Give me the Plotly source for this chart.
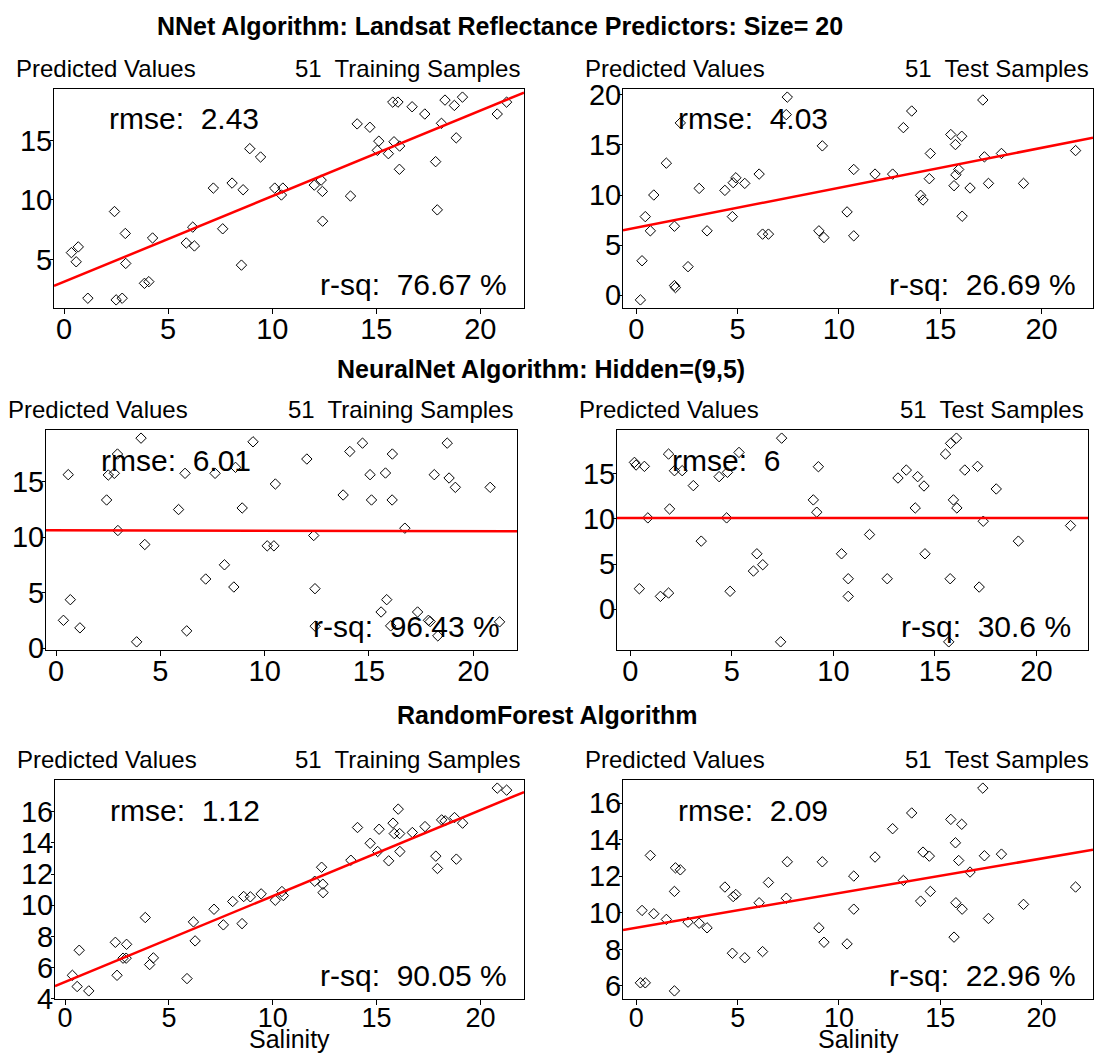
import plotly.graph_objects as go

# ---------------- data ----------------
train_x = [0.35, 0.58, 0.68, 1.14, 2.42, 2.50, 2.79, 2.94, 2.96, 3.86,
           4.07, 4.25, 5.87, 6.18, 6.26, 7.17, 7.62, 8.07, 8.52, 8.60,
           8.92, 9.44, 10.12, 10.44, 10.51, 12.02, 12.35, 12.41, 12.42, 13.76,
           14.08, 14.69, 15.05, 15.12, 15.58, 15.79, 15.85, 16.04, 16.11, 16.12,
           16.72, 17.33, 17.85, 17.93, 18.13, 18.30, 18.75, 18.84, 19.14, 20.81,
           21.26]

test_x = [0.20, 0.28, 0.44, 0.69, 0.86, 1.48, 1.88, 1.88, 1.93, 2.17,
          2.55, 3.10, 3.49, 4.37, 4.74, 4.78, 4.91, 5.35, 6.06, 6.23,
          6.52, 7.40, 7.45, 9.01, 9.18, 9.26, 10.40, 10.73, 10.73, 11.78,
          12.65, 13.18, 13.59, 14.03, 14.15, 14.46, 14.51, 15.52, 15.68, 15.75,
          15.77, 15.91, 16.06, 16.08, 16.47, 17.10, 17.18, 17.38, 18.02, 19.11,
          21.68]

nnet_train_pred = [5.58, 4.81, 6.06, 1.75, 9.03, 1.61, 1.75, 7.19, 4.67, 3.00,
                   3.14, 6.81, 6.39, 7.72, 6.14, 11.00, 7.58, 11.42, 4.53, 10.86,
                   14.31, 13.61, 11.00, 10.42, 11.00, 11.25, 11.67, 10.72, 8.22, 10.33,
                   16.39, 16.11, 14.17, 14.94, 13.89, 18.22, 14.89, 18.22, 12.58, 14.53,
                   17.83, 17.22, 13.22, 9.17, 16.44, 18.39, 17.94, 15.22, 18.64, 17.22,
                   18.22]

nnet_test_pred = [-0.48, 3.43, 7.84, 6.42, 10.00, 13.18, 6.88, 0.95, 0.75, 17.20,
                  2.84, 10.66, 6.42, 10.46, 7.84, 11.23, 11.72, 11.16, 12.09, 6.09,
                  6.09, 18.03, 19.78, 6.42, 14.91, 5.75, 8.31, 12.55, 5.92, 12.09,
                  12.09, 16.73, 18.39, 9.97, 9.50, 11.63, 14.15, 16.04, 10.93, 15.04,
                  12.02, 12.55, 15.87, 7.88, 10.70, 19.49, 13.81, 11.16, 14.15, 11.16,
                  14.44]

neural_train_pred = [2.51, 15.63, 4.37, 1.83, 13.35, 15.60, 15.75, 17.49, 10.60, 0.57,
                     18.92, 9.34, 12.49, 15.75, 1.56, 6.23, 15.75, 7.51, 5.51, 16.29,
                     12.63, 18.59, 9.22, 9.22, 14.79, 17.04, 10.15, 5.36, 1.98, 13.80,
                     17.72, 18.47, 15.63, 13.35, 3.26, 15.78, 4.37, 2.01, 13.35, 17.49,
                     10.81, 3.26, 2.51, 2.40, 15.63, 1.11, 18.47, 15.33, 14.49, 14.49,
                     2.37]

neural_test_pred = [16.25, 15.96, 2.28, 15.81, 10.11, 1.43, 1.80, 17.17, 11.10, 15.33,
                    15.33, 13.68, 7.54, 14.67, 10.11, 15.15, 1.99, 17.35, 4.23, 6.14,
                    4.93, -3.60, 18.93, 12.10, 10.74, 15.77, 6.14, 3.38, 1.43, 8.27,
                    3.38, 14.52, 15.40, 11.21, 14.67, 13.64, 6.14, 17.17, -3.60, 3.38,
                    18.35, 12.10, 18.93, 11.21, 15.40, 15.81, 2.46, 9.74, 13.31, 7.54,
                    9.26]

rf_train_pred = [5.50, 4.78, 7.11, 4.50, 7.62, 5.50, 6.60, 6.60, 7.49, 9.21,
                 6.19, 6.62, 5.29, 8.93, 7.71, 9.74, 8.74, 10.24, 8.82, 10.56,
                 10.54, 10.73, 10.32, 10.88, 10.62, 11.54, 12.44, 11.35, 10.81, 12.89,
                 14.99, 13.98, 13.45, 14.88, 12.85, 15.27, 14.60, 16.17, 14.60, 13.45,
                 14.67, 15.05, 13.15, 12.36, 15.48, 15.42, 15.63, 12.96, 15.27, 17.52,
                 17.39]

rf_test_pred = [6.17, 10.13, 6.17, 13.14, 9.95, 9.64, 11.17, 5.73, 12.46, 12.35,
                9.49, 9.43, 9.18, 11.41, 7.79, 10.89, 11.00, 7.54, 10.55, 7.88,
                11.66, 10.80, 12.79, 9.18, 12.79, 8.39, 8.30, 12.01, 10.20, 13.05,
                14.60, 11.77, 15.46, 10.64, 13.32, 13.10, 11.17, 15.11, 8.67, 13.83,
                10.55, 12.86, 14.84, 10.20, 12.23, 16.82, 13.12, 9.69, 13.21, 10.46,
                11.41]

# fitted-line parameters (intercept, slope), per panel
fit_intercept = [3.13, 6.73, 10.63, 10.11, 5.07, 9.19]
fit_slope = [0.719, 0.399, -0.0045, 0.0, 0.552, 0.189]

rmse_values = ["2.43", "4.03", "6.01", "6", "1.12", "2.09"]
rsq_values = ["76.67", "26.69", "96.43", "30.6", "90.05", "22.96"]
sample_labels = ["51  Training Samples", "51  Test Samples"] * 3
section_titles = ["NNet Algorithm: Landsat Reflectance Predictors: Size= 20",
                  "NeuralNet Algorithm: Hidden=(9,5)",
                  "RandomForest Algorithm"]
y_ticks = [[5, 10, 15], [0, 5, 10, 15, 20], [0, 5, 10, 15], [0, 5, 10, 15],
           [4, 6, 8, 10, 12, 14, 16], [6, 8, 10, 12, 14, 16]]
x_ticks = [0, 5, 10, 15, 20]
x_label = "Salinity"

panel_x = [train_x, test_x, train_x, test_x, train_x, test_x]
panel_y = [nnet_train_pred, nnet_test_pred, neural_train_pred,
           neural_test_pred, rf_train_pred, rf_test_pred]

# ---------------- layout ----------------
W, H = 1100, 1053
FONT = "Liberation Sans, Arial, sans-serif"
boxes = [(54, 524, 89, 308), (623, 1093, 89, 308),
         (46, 517, 430, 650), (617, 1088, 430, 650),
         (55, 524, 780, 999), (623, 1093, 780, 999)]
title_pos = [(500, 26), (541, 369), (547, 715)]


def fx(p):
    return p / W


def fy(p):
    return 1 - p / H


def padded(vals):
    lo, hi = min(vals), max(vals)
    d = (hi - lo) * 0.04
    return [lo - d, hi + d]


fig = go.Figure()
annotations = []
layout_axes = {}

for i in range(6):
    xs, ys = panel_x[i], panel_y[i]
    xr, yr = padded(xs), padded(ys)
    ax = "" if i == 0 else str(i + 1)
    xa, ya = "x" + ax, "y" + ax
    l, r, t, b = boxes[i]
    bottom_row = i >= 4

    fig.add_trace(go.Scatter(
        x=xs, y=ys, mode="markers", xaxis=xa, yaxis=ya,
        marker=dict(symbol="diamond-open", size=8, color="black",
                    line=dict(width=1, color="black")),
        showlegend=False, hoverinfo="skip"))
    fig.add_trace(go.Scatter(
        x=xr, y=[fit_intercept[i] + fit_slope[i] * v for v in xr],
        mode="lines", xaxis=xa, yaxis=ya,
        line=dict(color="#ff0000", width=2.5),
        showlegend=False, hoverinfo="skip"))

    layout_axes["xaxis" + ax] = dict(
        domain=[fx(l), fx(r)], range=xr, anchor=ya, automargin=False,
        tickvals=x_ticks, ticks="outside", ticklen=5, tickcolor="black",
        showline=True, mirror=True, linecolor="black", linewidth=1,
        showgrid=False, zeroline=False, ticklabelstandoff=-10,
        tickfont=dict(family=FONT, size=(27 if bottom_row else 29), color="black"))
    layout_axes["yaxis" + ax] = dict(
        domain=[fy(b), fy(t)], range=yr, anchor=xa, automargin=False,
        tickvals=y_ticks[i], ticks="outside", ticklen=3, tickcolor="black",
        showline=True, mirror=True, linecolor="black", linewidth=1,
        showgrid=False, zeroline=False, ticklabelstandoff=-8,
        tickfont=dict(family=FONT, size=29, color="black"))

    # header labels
    annotations.append(dict(
        text="Predicted Values", x=fx(l - 40), y=fy(t - 21), xref="paper", yref="paper",
        xanchor="left", yanchor="middle", showarrow=False,
        font=dict(family=FONT, size=24, color="black")))
    annotations.append(dict(
        text=sample_labels[i].replace("  ", "\u00a0 "), x=fx(r - 2), y=fy(t - 21),
        xref="paper", yref="paper", xanchor="right", yanchor="middle", showarrow=False,
        font=dict(family=FONT, size=24, color="black")))
    # statistics
    annotations.append(dict(
        text="rmse:\u00a0 " + rmse_values[i], x=fx(l + 53), y=fy(t + 30),
        xref="paper", yref="paper", xanchor="left", yanchor="middle", showarrow=False,
        font=dict(family=FONT, size=30, color="black")))
    annotations.append(dict(
        text="r-sq:\u00a0 " + rsq_values[i] + " %", x=fx(r - 15), y=fy(b - 24),
        xref="paper", yref="paper", xanchor="right", yanchor="middle", showarrow=False,
        font=dict(family=FONT, size=30, color="black")))
    if bottom_row:
        annotations.append(dict(
            text=x_label, x=fx((l + r) / 2), y=fy(1039),
            xref="paper", yref="paper", xanchor="center", yanchor="middle",
            showarrow=False, font=dict(family=FONT, size=25, color="black")))

for k, txt in enumerate(section_titles):
    px, py = title_pos[k]
    annotations.append(dict(
        text="<b>" + txt + "</b>", x=fx(px), y=fy(py), xref="paper", yref="paper",
        xanchor="center", yanchor="middle", showarrow=False,
        font=dict(family=FONT, size=25, color="black")))

fig.update_layout(
    width=W, height=H, margin=dict(l=0, r=0, t=0, b=0, pad=0, autoexpand=False),
    paper_bgcolor="white", plot_bgcolor="white",
    annotations=annotations, **layout_axes)

fig.write_html("out.html")
